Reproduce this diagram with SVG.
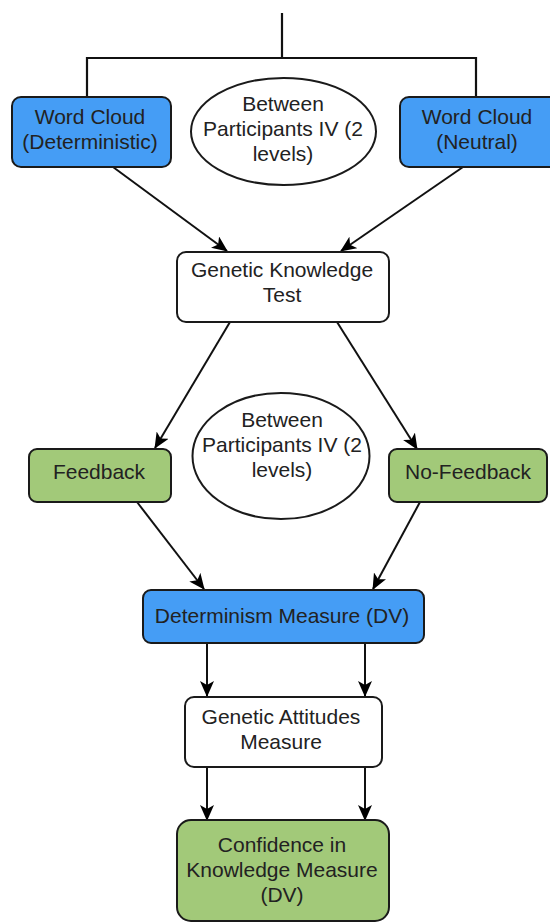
<svg xmlns="http://www.w3.org/2000/svg" width="550" height="923" viewBox="0 0 550 923">
<defs>
<marker id="arr" markerWidth="16" markerHeight="14" refX="15" refY="7" orient="auto" markerUnits="userSpaceOnUse">
<path d="M0,0 L16,7 L0,14 L4,7 Z" fill="#000"/>
</marker>
<style>
.box{stroke:#1a1a1a;stroke-width:2}
.blue{fill:#459df5}
.green{fill:#a2c979}
.white{fill:#fff}
.ell{fill:#fff;stroke:#1a1a1a;stroke-width:2}
text{font-family:"Liberation Sans",Arial,sans-serif;font-size:21px;fill:#222;text-anchor:middle}
.conn{stroke:#111;stroke-width:2.2;fill:none}
.arrow{stroke:#111;stroke-width:2;fill:none;marker-end:url(#arr)}
</style>
</defs>
<g id="connectors">
<path class="conn" d="M282,13 V58 M87,58 H476 M87,57 V97 M476,57 V97"/>
<line class="arrow" x1="113" y1="167" x2="227" y2="251"/>
<line class="arrow" x1="463" y1="167" x2="341" y2="251"/>
<line class="arrow" x1="230" y1="322" x2="155" y2="448"/>
<line class="arrow" x1="337" y1="322" x2="417" y2="449"/>
<line class="arrow" x1="137" y1="502" x2="204" y2="589"/>
<line class="arrow" x1="420" y1="502" x2="373" y2="589"/>
<line class="arrow" x1="207" y1="643" x2="207" y2="696"/>
<line class="arrow" x1="365" y1="643" x2="365" y2="696"/>
<line class="arrow" x1="207" y1="767" x2="207" y2="820"/>
<line class="arrow" x1="365" y1="767" x2="365" y2="820"/>
</g>
<g id="wc-det">
<rect class="box blue" x="12" y="97" width="159" height="70" rx="9"/>
<text x="90" y="124">Word Cloud</text>
<text x="90" y="149">(Deterministic)</text>
</g>
<g id="iv1">
<ellipse class="ell" cx="283.5" cy="131.5" rx="92.5" ry="53.5"/>
<text x="283" y="111">Between</text>
<text x="283" y="136">Participants IV (2</text>
<text x="283" y="161">levels)</text>
</g>
<g id="wc-neu">
<rect class="box blue" x="400" y="97" width="158" height="70" rx="9"/>
<text x="477" y="124">Word Cloud</text>
<text x="477" y="149">(Neutral)</text>
</g>
<g id="gkt">
<rect class="box white" x="177" y="252" width="212" height="70" rx="9"/>
<text x="282" y="277">Genetic Knowledge</text>
<text x="282" y="302">Test</text>
</g>
<g id="iv2">
<ellipse class="ell" cx="281" cy="456" rx="88.5" ry="63"/>
<text x="282" y="427">Between</text>
<text x="282" y="452">Participants IV (2</text>
<text x="282" y="477">levels)</text>
</g>
<g id="feedback">
<rect class="box green" x="29" y="449" width="142" height="53" rx="8"/>
<text x="99" y="479">Feedback</text>
</g>
<g id="nofeedback">
<rect class="box green" x="389" y="449" width="158" height="53" rx="8"/>
<text x="468" y="479">No-Feedback</text>
</g>
<g id="determinism">
<rect class="box blue" x="143" y="590" width="281" height="53" rx="8"/>
<text x="282" y="623">Determinism Measure (DV)</text>
</g>
<g id="attitudes">
<rect class="box white" x="185" y="697" width="197" height="70" rx="9"/>
<text x="281" y="724">Genetic Attitudes</text>
<text x="281" y="749">Measure</text>
</g>
<g id="confidence">
<rect class="box green" x="177" y="820" width="212" height="101" rx="14"/>
<text x="282" y="852">Confidence in</text>
<text x="282" y="877">Knowledge Measure</text>
<text x="282" y="902">(DV)</text>
</g>
</svg>
